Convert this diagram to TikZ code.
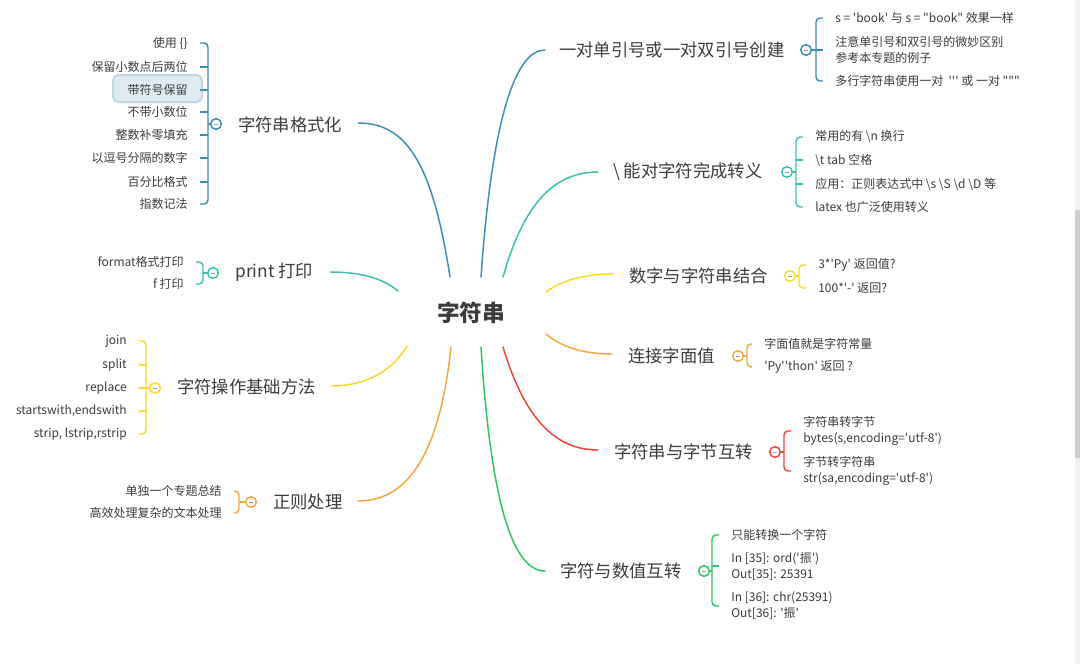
\documentclass[tikz,border=0pt]{standalone}
\usepackage{fontspec}
\newfontfamily\ff{Noto Sans CJK SC}
\definecolor{txt}{RGB}{60,60,60}
\definecolor{cA}{RGB}{58,143,178}
\definecolor{cB}{RGB}{54,196,176}
\definecolor{cY}{RGB}{250,218,40}
\definecolor{cO}{RGB}{250,165,60}
\definecolor{cR}{RGB}{244,67,54}
\definecolor{cG}{RGB}{46,196,100}
\definecolor{minusc}{RGB}{150,160,190}
\definecolor{hlfill}{RGB}{222,236,242}
\definecolor{hldraw}{RGB}{190,215,228}
\definecolor{track}{RGB}{241,241,241}
\definecolor{thumb}{RGB}{205,205,205}
\begin{document}
\begin{tikzpicture}[x=0.75pt,y=-0.75pt,
  every node/.style={font=\ff, text=txt, inner sep=0pt},
  leaf/.style={font=\ff\fontsize{9}{12}\selectfont},
  leafR/.style={leaf, anchor=west, align=left},
  leafL/.style={leaf, anchor=east, align=right},
  topic/.style={font=\ff\fontsize{13}{16}\selectfont, anchor=west},
  root/.style={font=\ff\bfseries\fontsize{17}{20}\selectfont},
  tog/.style={circle, draw=#1, fill=white, line width=1.1pt, minimum size=8pt,
    path picture={\draw[minusc, line width=0.6pt]
      ([xshift=-1.8pt]path picture bounding box.center) -- ([xshift=1.8pt]path picture bounding box.center);}},
  conn/.style={draw=#1, line width=1.1pt, line cap=round},
  br/.style={draw=#1, line width=1.1pt, rounded corners=3pt}]
\useasboundingbox (0,0) rectangle (1080,664);
\fill[white] (0,0) rectangle (1080,664);
% scrollbar
\fill[track] (1075,0) rectangle (1080,664);
\fill[thumb] (1075,210) rectangle (1080,458);

\node[root] (root) at (471,313) {字符串};

% connector end points
\coordinate (a1) at (450,277); \coordinate (e1) at (358,123);
\coordinate (a2) at (398,291); \coordinate (e2) at (330,272);
\coordinate (a3) at (407,346); \coordinate (e3) at (332,386);
\coordinate (a4) at (451,347); \coordinate (e4) at (358,501);
\coordinate (a5) at (481,277); \coordinate (e5) at (545,50);
\coordinate (a6) at (503,277); \coordinate (e6) at (598,172);
\coordinate (a7) at (546,292); \coordinate (e7) at (613,274);
\coordinate (a8) at (546,334); \coordinate (e8) at (612,354);
\coordinate (a9) at (503,347); \coordinate (e9) at (598,450);
\coordinate (a10) at (481,347); \coordinate (e10) at (545,571);

\draw[conn=cA] (a1) .. controls (432,160) and (405,123) .. (e1);
\draw[conn=cB] (a2) .. controls (380,276) and (355,272) .. (e2);
\draw[conn=cY] (a3) .. controls (390,375) and (360,386) .. (e3);
\draw[conn=cO] (a4) .. controls (440,450) and (410,501) .. (e4);
\draw[conn=cA] (a5) .. controls (492,120) and (515,50) .. (e5);
\draw[conn=cB] (a6) .. controls (522,210) and (550,172) .. (e6);
\draw[conn=cY] (a7) .. controls (565,278) and (590,274) .. (e7);
\draw[conn=cO] (a8) .. controls (565,350) and (590,354) .. (e8);
\draw[conn=cR] (a9) .. controls (522,410) and (550,450) .. (e9);
\draw[conn=cG] (a10) .. controls (490,490) and (510,571) .. (e10);

% ---------- branch 1: 字符串格式化 ----------
\node[topic] (t1) at (238,125) {字符串格式化};
\draw[rounded corners=4pt, fill=hlfill, draw=hldraw, line width=1.5pt] (113,75) rectangle (202,102);
\node[leafL] (l11) at (188,43) {使用 \{\}};
\node[leafL] (l12) at (188,67) {保留小数点后两位};
\node[leafL] (l13) at (188,90) {带符号保留};
\node[leafL] (l14) at (188,112) {不带小数位};
\node[leafL] (l15) at (188,135) {整数补零填充};
\node[leafL] (l16) at (188,158) {以逗号分隔的数字};
\node[leafL] (l17) at (188,182) {百分比格式};
\node[leafL] (l18) at (188,204) {指数记法};
\coordinate (b1) at (208,124);
\draw[br=cA] ([xshift=9pt]l11.east) -| (b1) |- ([xshift=9pt]l18.east);
\foreach \n in {2,...,7} \draw[br=cA] (b1 |- l1\n.east) -- ([xshift=9pt]l1\n.east);
\node[tog=cA] (g1) at (216,124) {};
\draw[br=cA] (g1.west) -- (b1);

% ---------- branch 2: print 打印 ----------
\node[topic] (t2) at (235,272) {print 打印};
\node[leafL] (l21) at (184,262) {format格式打印};
\node[leafL] (l22) at (184,284) {f 打印};
\coordinate (b2) at (203,273);
\draw[br=cB] ([xshift=9pt]l21.east) -| (b2) |- ([xshift=9pt]l22.east);
\node[tog=cB] (g2) at (213,273) {};
\draw[br=cB] (g2.west) -- (b2);

% ---------- branch 3: 字符操作基础方法 ----------
\node[topic] (t3) at (177,387) {字符操作基础方法};
\node[leafL] (l31) at (127,341) {join};
\node[leafL] (l32) at (127,365) {split};
\node[leafL] (l33) at (127,388) {replace};
\node[leafL] (l34) at (127,411) {startswith,endswith};
\node[leafL] (l35) at (127,434) {strip, lstrip,rstrip};
\coordinate (b3) at (146,388);
\draw[br=cY] ([xshift=9pt]l31.east) -| (b3) |- ([xshift=9pt]l35.east);
\foreach \n in {2,...,4} \draw[br=cY] (b3 |- l3\n.east) -- ([xshift=9pt]l3\n.east);
\node[tog=cY] (g3) at (155,388) {};
\draw[br=cY] (g3.west) -- (b3);

% ---------- branch 4: 正则处理 ----------
\node[topic] (t4) at (273,502) {正则处理};
\node[leafL] (l41) at (222,491) {单独一个专题总结};
\node[leafL] (l42) at (222,513) {高效处理复杂的文本处理};
\coordinate (b4) at (239,502);
\draw[br=cO] ([xshift=9pt]l41.east) -| (b4) |- ([xshift=9pt]l42.east);
\node[tog=cO] (g4) at (251,502) {};
\draw[br=cO] (g4.west) -- (b4);

% ---------- branch 5: 一对单引号或一对双引号创建 ----------
\node[topic] (t5) at (559,50) {一对单引号或一对双引号创建};
\node[leafR] (l51) at (835,18) {s = 'book' 与 s = "book" 效果一样};
\node[leafR] (l52) at (835,50) {注意单引号和双引号的微妙区别\\参考本专题的例子};
\node[leafR] (l53) at (835,81) {多行字符串使用一对 \ ''' 或 一对 """};
\coordinate (b5) at (816,50);
\draw[br=cA] ([xshift=-9pt]l51.west) -| (b5) |- ([xshift=-9pt]l53.west);
\draw[br=cA] (b5 |- l52.west) -- ([xshift=-9pt]l52.west);
\node[tog=cA] (g5) at (806,50) {};
\draw[br=cA] (g5.east) -- (b5);

% ---------- branch 6: \ 能对字符完成转义 ----------
\node[topic] (t6) at (613,172) {\textbackslash{} 能对字符完成转义};
\node[leafR] (l61) at (815,137) {常用的有 \textbackslash n 换行};
\node[leafR] (l62) at (815,160) {\textbackslash t tab 空格};
\node[leafR] (l63) at (815,184) {应用：正则表达式中 \textbackslash s \textbackslash S \textbackslash d \textbackslash D 等};
\node[leafR] (l64) at (815,207) {latex 也广泛使用转义};
\coordinate (b6) at (796,172);
\draw[br=cB] ([xshift=-9pt]l61.west) -| (b6) |- ([xshift=-9pt]l64.west);
\foreach \n in {2,3} \draw[br=cB] (b6 |- l6\n.west) -- ([xshift=-9pt]l6\n.west);
\node[tog=cB] (g6) at (787,172) {};
\draw[br=cB] (g6.east) -- (b6);

% ---------- branch 7: 数字与字符串结合 ----------
\node[topic] (t7) at (629,276) {数字与字符串结合};
\node[leafR] (l71) at (818,265) {3*'Py' 返回值?};
\node[leafR] (l72) at (818,288) {100*'-' 返回?};
\coordinate (b7) at (799,276);
\draw[br=cY] ([xshift=-9pt]l71.west) -| (b7) |- ([xshift=-9pt]l72.west);
\node[tog=cY] (g7) at (790,276) {};
\draw[br=cY] (g7.east) -- (b7);

% ---------- branch 8: 连接字面值 ----------
\node[topic] (t8) at (628,356) {连接字面值};
\node[leafR] (l81) at (764,344) {字面值就是字符常量};
\node[leafR] (l82) at (764,367) {'Py''thon' 返回 ?};
\coordinate (b8) at (747,356);
\draw[br=cO] ([xshift=-9pt]l81.west) -| (b8) |- ([xshift=-9pt]l82.west);
\node[tog=cO] (g8) at (738,356) {};
\draw[br=cO] (g8.east) -- (b8);

% ---------- branch 9: 字符串与字节互转 ----------
\node[topic] (t9) at (614,452) {字符串与字节互转};
\node[leafR] (l91) at (803,431) {字符串转字节\\bytes(s,encoding='utf-8')};
\node[leafR] (l92) at (803,471) {字节转字符串\\str(sa,encoding='utf-8')};
\coordinate (b9) at (784,452);
\draw[br=cR] ([xshift=-9pt]l91.west) -| (b9) |- ([xshift=-9pt]l92.west);
\node[tog=cR] (g9) at (775,452) {};
\draw[br=cR] (g9.east) -- (b9);

% ---------- branch 10: 字符与数值互转 ----------
\node[topic] (t10) at (560,571) {字符与数值互转};
\node[leafR] (l101) at (731,535) {只能转换一个字符};
\node[leafR] (l102) at (731,566) {In [35]: ord('振')\\Out[35]: 25391};
\node[leafR] (l103) at (731,606) {In [36]: chr(25391)\\Out[36]: '振'};
\coordinate (b10) at (712,571);
\draw[br=cG] ([xshift=-9pt]l101.west) -| (b10) |- ([xshift=-9pt]l103.west);
\draw[br=cG] (b10 |- l102.west) -- ([xshift=-9pt]l102.west);
\node[tog=cG] (g10) at (704,571) {};
\draw[br=cG] (g10.east) -- (b10);
\end{tikzpicture}
\end{document}
